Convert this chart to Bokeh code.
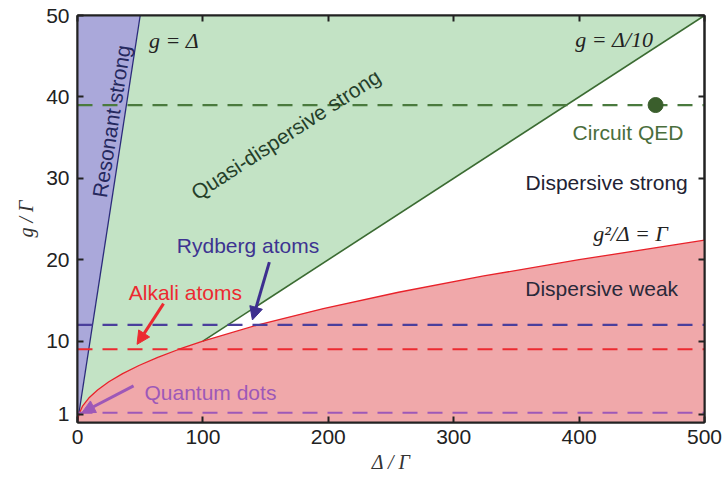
from bokeh.plotting import figure
from bokeh.models import Arrow, NormalHead, LinearAxis, FixedTicker, Range1d, Label
from bokeh.embed import file_html
from bokeh.resources import INLINE

# ---------------- data ----------------
delta_ticks = [0, 100, 200, 300, 400, 500]
g_ticks = [1, 10, 20, 30, 40, 50]
delta_max = 500
g_max = 50

# boundary g^2/Δ = Γ
weak_delta = [0, 1, 4, 9, 16, 25, 36, 49, 64, 81, 100, 144, 196, 256, 324, 400, 500]
weak_g = [0, 1, 2, 3, 4, 5, 6, 7, 8, 9, 10, 12, 14, 16, 18, 20, 22.4]

# boundary g = Δ
res_delta = [0, 50]
res_g = [0, 50]

# boundary g = Δ/10
disp_delta = [100, 500]
disp_g = [10, 50]

# experimental systems (horizontal dashed lines)
systems = ["Circuit QED", "Rydberg atoms", "Alkali atoms", "Quantum dots"]
system_g = [39, 12, 9, 1.2]
system_colors = ["#4a7a3e", "#4a3f9c", "#ec2a30", "#9d58b8"]

circuit_delta = [461]
circuit_g = [39]

# ---------------- figure ----------------
p = figure(width=723, height=479, output_backend="svg", toolbar_location=None,
           x_range=Range1d(0, delta_max), y_range=Range1d(0, g_max),
           min_border_left=77, min_border_right=19, min_border_top=15, min_border_bottom=57)
p.xgrid.visible = False
p.ygrid.visible = False
p.background_fill_color = "white"
p.outline_line_color = "#222222"
p.outline_line_width = 2

# regions
blue_x = [res_delta[0], res_delta[0], res_delta[1]]
blue_y = [res_g[0], g_max, res_g[1]]
p.patch(blue_x, blue_y, fill_color="#aaa8da", line_color=None)

low_curve = [(d, g) for d, g in zip(weak_delta, weak_g) if d <= disp_delta[0]]
green_x = [res_delta[1], disp_delta[1], disp_delta[0]] + [d for d, g in reversed(low_curve)]
green_y = [res_g[1], disp_g[1], disp_g[0]] + [g for d, g in reversed(low_curve)]
p.patch(green_x, green_y, fill_color="#c3e3c5", line_color=None)

red_x = weak_delta + [delta_max, 0]
red_y = weak_g + [0, 0]
p.patch(red_x, red_y, fill_color="#f0a8aa", line_color=None)

# boundary lines
p.line(res_delta, res_g, line_color="#2a2a7a", line_width=1.3)
p.line(disp_delta, disp_g, line_color="#3b6b32", line_width=1.6)
p.line(weak_delta, weak_g, line_color="#e8222a", line_width=1.3)

# dashed system lines
for gv, c in zip(system_g, system_colors):
    p.line([0, delta_max], [gv, gv], line_color=c, line_width=2.2, line_dash="15 10")

p.scatter(circuit_delta, circuit_g, size=15, marker="circle", fill_color="#3a5e2c", line_color="#3a5e2c")

# axes styling
for ax in (p.xaxis[0], p.yaxis[0]):
    ax.major_tick_in = 6
    ax.major_tick_out = 0
    ax.minor_tick_line_color = None
    ax.axis_line_width = 2
    ax.axis_line_color = "#222222"
    ax.major_tick_line_width = 2
    ax.major_tick_line_color = "#222222"
    ax.major_label_text_font = "Liberation Sans"
    ax.major_label_text_font_size = "21px"
    ax.major_label_text_color = "#222222"
    ax.axis_label_text_font = "Liberation Serif"
    ax.axis_label_text_font_style = "italic"
    ax.axis_label_text_font_size = "20px"
    ax.axis_label_text_color = "#333333"

p.xaxis[0].ticker = FixedTicker(ticks=delta_ticks)
p.yaxis[0].ticker = FixedTicker(ticks=g_ticks)
p.xaxis[0].axis_label = "Δ / Γ"
p.yaxis[0].axis_label = "g / Γ"
p.xaxis[0].major_label_standoff = 7
p.xaxis[0].axis_label_standoff = 4
p.yaxis[0].major_label_standoff = 8
p.yaxis[0].axis_label_standoff = 6

top = LinearAxis(ticker=FixedTicker(ticks=delta_ticks))
right = LinearAxis(ticker=FixedTicker(ticks=g_ticks))
for ax in (top, right):
    ax.major_tick_in = 6
    ax.major_tick_out = 0
    ax.minor_tick_line_color = None
    ax.axis_line_width = 2
    ax.axis_line_color = "#222222"
    ax.major_tick_line_width = 2
    ax.major_tick_line_color = "#222222"
    ax.major_label_text_font_size = "1px"
    ax.major_label_text_color = None
    ax.major_label_standoff = 0
p.add_layout(top, "above")
p.add_layout(right, "right")

# ---------------- labels ----------------
sans = "Liberation Sans"
serif = "Liberation Serif"

def lab(x, y, t, color, size="21px", font=sans, style="normal", align="center", angle=0):
    p.add_layout(Label(x=x, y=y, text=t, text_color=color, text_font=font,
                       text_font_size=size, text_font_style=style, text_align=align,
                       text_baseline="middle", angle=angle, angle_units="deg"))

lab(27, 37, "Resonant strong", "#25285e", angle=81)
lab(166, 35.4, "Quasi-dispersive strong", "#25402a", angle=33)
lab(57, 46.9, "g = Δ", "#222222", font=serif, style="italic", align="left", size="22px")
lab(459, 47, "g = Δ/10", "#222222", font=serif, style="italic", align="right", size="22px")
lab(439, 35.6, "Circuit QED", "#4a6e3c")
lab(422, 29.5, "Dispersive strong", "#222233")
lab(471, 23.2, "g²/Δ = Γ", "#222222", font=serif, style="italic", align="right", size="22px")
lab(418, 16.5, "Dispersive weak", "#2a2a3a")
lab(136, 21.7, "Rydberg atoms", "#3d3391")
lab(86, 16.0, "Alkali atoms", "#ec2a30")
lab(106, 3.7, "Quantum dots", "#9d58b8")

# arrows
arrows = [
    (153, 19.7, 139.5, 12.6, "#3d2f8f"),
    (68.6, 14.6, 47.5, 9.6, "#ec2a30"),
    (44.7, 4.5, 3.5, 1.2, "#9d58b8"),
]
for xs, ys, xe, ye, c in arrows:
    p.add_layout(Arrow(end=NormalHead(size=13, fill_color=c, line_color=c),
                       x_start=xs, y_start=ys, x_end=xe, y_end=ye,
                       line_color=c, line_width=3))

open("out.html", "w").write(file_html(p, INLINE))
